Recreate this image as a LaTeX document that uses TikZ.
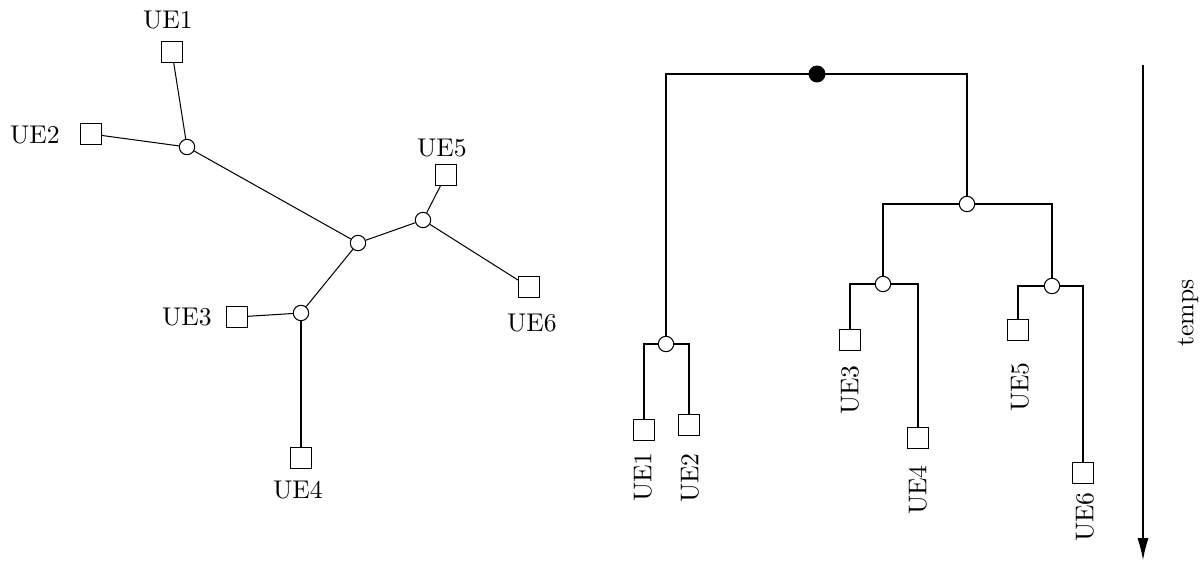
\documentclass[tikz,border=0pt]{standalone}
\usepackage{tikz}
\usetikzlibrary{positioning,arrows.meta}

\begin{document}
\begin{tikzpicture}[x=0.39pt, y=-0.39pt,
        ue/.style={draw, minimum size=8pt, inner sep=0pt},
        jn/.style={circle, draw, minimum size=6pt, inner sep=0pt},
        racine/.style={circle, draw, fill=black, minimum size=6.2pt, inner sep=0pt},
        txt/.style={inner sep=0pt}]
    \useasboundingbox (0,0) rectangle (1202,574);
        % arbre de gauche
        \node[ue] (u1) at (172,52) {};
        \node[ue] (u2) at (91,134) {};
        \node[ue] (u3) at (237,317) {};
        \node[ue] (u4) at (301,458) {};
        \node[ue] (u5) at (446,175) {};
        \node[ue] (u6) at (529,287) {};
        \node[txt] (l1) at (168,20) {UE1};
        \node[txt] (l2) at (35,135) {UE2};
        \node[txt] (l3) at (187,317) {UE3};
        \node[txt] (l4) at (298,490) {UE4};
        \node[txt] (l5) at (442,148) {UE5};
        \node[txt] (l6) at (532,323) {UE6};
        \node[jn] (a) at (187,147) {};
        \node[jn] (b) at (358,243) {};
        \node[jn] (c) at (423,220) {};
        \node[jn] (d) at (301,313) {};
        \draw (a) -- (u1);
        \draw (a) -- (u2);
        \draw (a) -- (b);
        \draw (b) -- (c);
        \draw (c) -- (u5);
        \draw (c) -- (u6);
        \draw (b) -- (d);
        \draw (d) -- (u3);
        \draw (d) -- (u4);
        % arbre de droite
        \node[racine] (r) at (817,74) {};
        \node[jn] (e) at (666,344) {};
        \node[jn] (f) at (967,204) {};
        \node[jn] (g) at (883,284) {};
        \node[jn] (h) at (1052,286) {};
        \node[ue] (v1) at (644,430) {};
        \node[ue] (v2) at (689,425) {};
        \node[ue] (v3) at (850,340) {};
        \node[ue] (v4) at (918,438) {};
        \node[ue] (v5) at (1018,330) {};
        \node[ue] (v6) at (1083,473) {};
        \node[txt, rotate=90] (m1) at (643,477) {UE1};
        \node[txt, rotate=90] (m2) at (690,478) {UE2};
        \node[txt, rotate=90] (m3) at (850,390) {UE3};
        \node[txt, rotate=90] (m4) at (918,490) {UE4};
        \node[txt, rotate=90] (m5) at (1020,387) {UE5};
        \node[txt, rotate=90] (m6) at (1085,517) {UE6};
        \draw (r) -| (e);
        \draw (r) -| (f);
        \draw (e) -| (v1);
        \draw (e) -| (v2);
        \draw (f) -| (g);
        \draw (f) -| (h);
        \draw (g) -| (v3);
        \draw (g) -| (v4);
        \draw (h) -| (v5);
        \draw (h) -| (v6);
        % axe du temps
        \coordinate (t0) at (1143,65);
        \coordinate (t1) at (1143,560);
        \draw[-{Latex[length=8.5pt,width=4.3pt]}] (t0) -- (t1);
        \node[txt, rotate=90] (temps) at (1188,313) {temps};
    \end{tikzpicture}
\end{document}
